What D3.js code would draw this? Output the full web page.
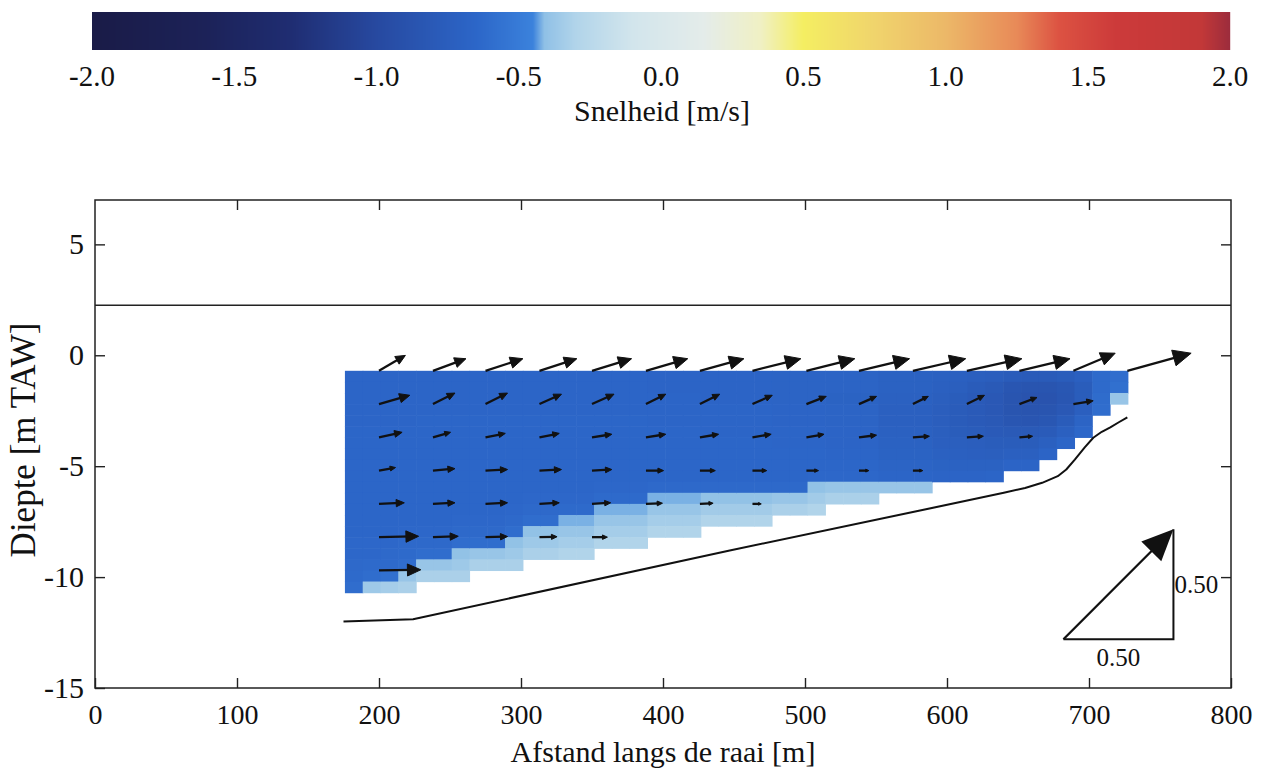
<!DOCTYPE html>
<meta charset="utf-8">
<title>Snelheid langs de raai</title>
<style>
body {
  margin: 0;
  background: #fff;
}
text {
  font-family: "Liberation Serif", "Times New Roman", serif;
  fill: #111;
}
.axis line {
  stroke: #222;
  stroke-width: 1.4px;
}
.axis path {
  display: none;
}
</style>
<body>
<script src="https://cdnjs.cloudflare.com/ajax/libs/d3/7.8.5/d3.min.js"></script>
<script>
var w = 1272,
    h = 769;

// colour bar
var barTicks = [-2.0, -1.5, -1.0, -0.5, 0.0, 0.5, 1.0, 1.5, 2.0];
var barStops = [-2.0, -1.6, -1.3, -1.0, -0.65, -0.45, -0.41, -0.3, -0.1, 0.15, 0.35, 0.5, 0.75, 1.0, 1.25, 1.4, 1.6, 1.9, 2.0];
var barColors = ["#1a1b47", "#1c2258", "#1f2d72", "#2749a0", "#2c66c8", "#3b82dc", "#8fc0e6", "#b1d4ea", "#d2e5ec", "#e4ecea",
                 "#f0f0c4", "#f4ee62", "#f0d46c", "#ecb868", "#e88a58", "#dc5242", "#cc3a3a", "#c23838", "#9c2c3c"];

// measuring grid (bins of 12.5 m x 0.5 m), speed in cm/s per column, top to bottom
var gridX0 = 176, gridDx = 12.53, gridZ0 = -0.7, gridDz = 0.5;
var speedCols = [
  [-66,-66,-66,-66,-66,-65,-65,-65,-65,-65,-65,-65,-65,-65,-65,-64,-64,-63,-62,-60],
  [-66,-66,-66,-66,-66,-65,-65,-65,-65,-65,-65,-65,-65,-65,-65,-64,-64,-62,-60,-36],
  [-66,-66,-66,-66,-66,-65,-65,-65,-65,-65,-65,-65,-65,-65,-65,-64,-63,-62,-58,-34],
  [-66,-66,-66,-66,-66,-65,-65,-65,-65,-65,-65,-65,-65,-65,-64,-63,-62,-60,-38,-32],
  [-66,-66,-66,-66,-65,-65,-65,-65,-65,-65,-65,-65,-65,-65,-64,-63,-60,-38,-32],
  [-66,-66,-66,-66,-65,-65,-65,-65,-65,-65,-65,-65,-65,-65,-64,-63,-60,-38,-32],
  [-66,-66,-66,-66,-65,-65,-65,-65,-65,-65,-65,-65,-65,-64,-63,-60,-40,-36,-32],
  [-66,-66,-66,-66,-65,-65,-65,-65,-65,-65,-65,-65,-65,-64,-63,-60,-38,-32],
  [-66,-66,-66,-66,-65,-65,-65,-65,-65,-65,-65,-65,-65,-64,-63,-60,-38,-32],
  [-66,-66,-66,-66,-65,-65,-65,-65,-65,-65,-65,-65,-64,-63,-60,-40,-36,-32],
  [-66,-66,-66,-66,-65,-65,-65,-65,-65,-65,-65,-64,-63,-60,-40,-36,-32],
  [-66,-66,-66,-66,-65,-65,-65,-65,-65,-65,-65,-64,-63,-60,-40,-36,-32],
  [-66,-66,-66,-66,-65,-65,-65,-65,-65,-65,-65,-64,-62,-42,-38,-34,-30],
  [-66,-66,-66,-66,-65,-65,-65,-65,-65,-65,-65,-64,-62,-42,-38,-34,-30],
  [-66,-66,-66,-66,-65,-65,-65,-65,-65,-65,-64,-62,-42,-38,-34,-30],
  [-66,-66,-66,-66,-65,-65,-65,-65,-65,-65,-64,-62,-42,-38,-34,-30],
  [-66,-66,-66,-66,-65,-65,-65,-65,-65,-65,-64,-62,-42,-38,-34,-30],
  [-67,-67,-66,-66,-66,-65,-65,-65,-65,-65,-63,-42,-38,-34,-30],
  [-67,-67,-66,-66,-66,-65,-65,-65,-65,-65,-63,-42,-38,-34,-30],
  [-67,-67,-66,-66,-66,-65,-65,-65,-65,-65,-63,-42,-38,-34,-30],
  [-67,-67,-67,-66,-66,-66,-65,-65,-65,-65,-63,-40,-35,-30],
  [-67,-67,-67,-66,-66,-66,-65,-65,-65,-65,-63,-40,-35,-30],
  [-67,-67,-67,-66,-66,-66,-65,-65,-65,-65,-63,-40,-35,-30],
  [-67,-67,-67,-66,-66,-66,-65,-65,-65,-65,-63,-40,-35,-30],
  [-68,-68,-68,-67,-67,-66,-66,-65,-65,-65,-63,-38,-32],
  [-68,-68,-68,-67,-67,-66,-66,-65,-65,-65,-63,-38,-32],
  [-68,-68,-68,-67,-67,-66,-66,-65,-65,-64,-40,-35,-30],
  [-68,-68,-69,-68,-68,-67,-67,-66,-65,-64,-38,-32],
  [-68,-68,-69,-68,-68,-67,-67,-66,-65,-64,-38,-32],
  [-68,-68,-69,-68,-68,-67,-67,-66,-65,-64,-38,-32],
  [-70,-70,-71,-72,-72,-71,-70,-69,-68,-66,-38],
  [-70,-70,-71,-72,-72,-71,-70,-69,-68,-66,-38],
  [-70,-70,-71,-72,-72,-71,-70,-69,-68,-66,-38],
  [-71,-72,-74,-75,-75,-74,-73,-71,-69,-67],
  [-72,-74,-76,-77,-77,-76,-74,-72,-70,-67],
  [-74,-77,-79,-79,-79,-77,-75,-73,-70,-67],
  [-75,-80,-82,-82,-81,-79,-76,-74,-70,-66],
  [-77,-84,-86,-86,-84,-80,-76,-72,-67],
  [-78,-86,-88,-87,-85,-80,-76,-72,-67],
  [-78,-86,-88,-86,-83,-78,-72,-67],
  [-76,-83,-84,-82,-77,-72,-66],
  [-72,-76,-76,-73,-68,-64],
  [-62,-62,-61,-60],
  [-60,-58,-38]
];

// velocity vectors (m/s): tails at arrowX[col], arrowZ[row]
var arrowX = [200, 238, 275, 313, 350, 388, 426, 463, 501, 538, 576, 614, 651, 689, 727];
var arrowZ = [-0.7, -2.2, -3.7, -5.2, -6.7, -8.2, -9.7];
var arrowU = [
  [0.12, 0.15, 0.17, 0.17, 0.18, 0.19, 0.20, 0.22, 0.22, 0.23, 0.24, 0.25, 0.23, 0.19, 0.29],
  [0.14, 0.10, 0.10, 0.10, 0.10, 0.09, 0.09, 0.09, 0.09, 0.08, 0.07, 0.08, 0.08, 0.09],
  [0.105, 0.08, 0.09, 0.09, 0.09, 0.09, 0.085, 0.085, 0.08, 0.08, 0.075, 0.075, 0.06],
  [0.075, 0.10, 0.10, 0.10, 0.09, 0.08, 0.07, 0.065, 0.055, 0.045, 0.045],
  [0.115, 0.10, 0.10, 0.09, 0.085, 0.075, 0.06, 0.04],
  [0.18, 0.115, 0.10, 0.08, 0.07],
  [0.19]
];
var arrowW = [
  [0.07, 0.055, 0.055, 0.055, 0.055, 0.055, 0.055, 0.055, 0.055, 0.055, 0.055, 0.055, 0.055, 0.08, 0.08],
  [0.04, 0.05, 0.05, 0.045, 0.045, 0.045, 0.045, 0.04, 0.035, 0.035, 0.035, 0.04, 0.03, 0.015],
  [0.023, 0.023, 0.018, 0.018, 0.014, 0.014, 0.014, 0.014, 0.014, 0.01, 0.005, 0.005, 0.005],
  [0.014, 0.009, 0.005, 0.005, 0.005, 0, 0, 0, 0, 0, 0],
  [0.005, 0.005, 0.005, 0.005, 0.005, 0.003, 0.003, 0],
  [0.004, 0.004, 0.003, 0.002, 0],
  [0.003]
];

// bed profile and water level
var bedX = [175, 224, 447, 581, 640, 655, 667, 678, 684, 690, 697, 703, 709, 715, 721, 727];
var bedZ = [-12.0, -11.9, -8.8, -7.0, -6.2, -5.98, -5.75, -5.45, -5.15, -4.7, -4.15, -3.72, -3.45, -3.25, -3.02, -2.8];
var waterLevel = 2.25;

var xTicks = [0, 100, 200, 300, 400, 500, 600, 700, 800];
var yTicks = [5, 0, -5, -10, -15];
var refSpeed = 0.5, refX = 682, refZ = -12.8;

var svg = d3.select("body").append("svg")
    .attr("width", w)
    .attr("height", h);

var color = d3.scaleLinear().domain(barStops).range(barColors).clamp(true);

// ---- colour bar
var cb = d3.scaleLinear().domain([-2, 2]).range([92, 1230]);
svg.append("g").selectAll("rect")
    .data(d3.range(92, 1230))
  .enter().append("rect")
    .attr("x", function(d) { return d; })
    .attr("y", 12)
    .attr("width", 1.2)
    .attr("height", 38)
    .style("fill", function(d) { return color(cb.invert(d + 0.5)); });

svg.append("g").selectAll("text")
    .data(barTicks)
  .enter().append("text")
    .attr("x", cb)
    .attr("y", 86)
    .attr("text-anchor", "middle")
    .style("font-size", "29px")
    .text(function(d) { return d.toFixed(1); });

svg.append("text")
    .attr("x", 662)
    .attr("y", 121)
    .attr("text-anchor", "middle")
    .style("font-size", "30px")
    .text("Snelheid [m/s]");

// ---- main plot
var x = d3.scaleLinear().domain([0, 800]).range([95, 1231]),
    y = d3.scaleLinear().domain([-15, 7]).range([688, 200]);

var cells = [];
speedCols.forEach(function(col, i) {
  col.forEach(function(v, j) {
    cells.push({x0: gridX0 + i * gridDx, z0: gridZ0 - j * gridDz, v: v / 100});
  });
});

svg.append("g").selectAll("rect")
    .data(cells)
  .enter().append("rect")
    .attr("x", function(d) { return x(d.x0); })
    .attr("y", function(d) { return y(d.z0); })
    .attr("width", function(d) { return x(d.x0 + gridDx) - x(d.x0) + 0.6; })
    .attr("height", function(d) { return y(d.z0 - gridDz) - y(d.z0) + 0.6; })
    .style("fill", function(d) { return color(d.v); });

// water level
svg.append("line")
    .attr("x1", x(0)).attr("x2", x(800))
    .attr("y1", y(waterLevel)).attr("y2", y(waterLevel))
    .style("stroke", "#222")
    .style("stroke-width", 1.5);

// bed
svg.append("path")
    .datum(d3.zip(bedX, bedZ))
    .attr("d", d3.line().x(function(d) { return x(d[0]); }).y(function(d) { return y(d[1]); }))
    .style("fill", "none")
    .style("stroke", "#111")
    .style("stroke-width", 2)
    .style("stroke-linejoin", "round");

// arrows
var vs = d3.scaleLinear().domain([0, refSpeed]).range([0, 110]);
var arrows = [];
arrowU.forEach(function(row, j) {
  row.forEach(function(u, i) {
    arrows.push({x: arrowX[i], z: arrowZ[j], u: u, w: arrowW[j][i]});
  });
});

function arrowPath(x0, y0, x1, y1) {
  var dx = x1 - x0, dy = y1 - y0, len = Math.sqrt(dx * dx + dy * dy);
  var hl = Math.min(0.32 * len, 8 + 0.15 * len), hw = 0.45 * hl;
  var ux = dx / len, uy = dy / len;
  var bx = x1 - ux * hl, by = y1 - uy * hl;
  return {
    shaft: "M" + x0 + "," + y0 + "L" + (x1 - ux * hl * 0.5) + "," + (y1 - uy * hl * 0.5),
    head: "M" + x1 + "," + y1 + "L" + (bx - uy * hw) + "," + (by + ux * hw) + "L" + (bx + uy * hw) + "," + (by - ux * hw) + "Z"
  };
}

var ag = svg.append("g");
arrows.forEach(function(d) {
  var x0 = x(d.x), y0 = y(d.z);
  var p = arrowPath(x0, y0, x0 + vs(d.u), y0 - vs(d.w));
  ag.append("path").attr("d", p.shaft).style("stroke", "#111").style("stroke-width", 2.3).style("fill", "none");
  ag.append("path").attr("d", p.head).style("fill", "#111").style("stroke", "#111").style("stroke-width", 1).style("stroke-linejoin", "round");
});

// reference triangle
var rx = x(refX), ry = y(refZ);
svg.append("path")
    .attr("d", "M" + rx + "," + ry + "H" + (rx + vs(refSpeed)) + "V" + (ry - vs(refSpeed)))
    .style("fill", "none")
    .style("stroke", "#111")
    .style("stroke-width", 2);
var rp = arrowPath(rx, ry, rx + vs(refSpeed), ry - vs(refSpeed));
svg.append("path").attr("d", rp.shaft).style("stroke", "#111").style("stroke-width", 2.3).style("fill", "none");
svg.append("path").attr("d", rp.head).style("fill", "#111");
svg.append("text")
    .attr("x", rx + vs(refSpeed) / 2)
    .attr("y", ry + 27)
    .attr("text-anchor", "middle")
    .style("font-size", "25px")
    .text(refSpeed.toFixed(2));
svg.append("text")
    .attr("x", rx + vs(refSpeed) + 1)
    .attr("y", ry - vs(refSpeed) / 2 + 9)
    .style("font-size", "25px")
    .text(refSpeed.toFixed(2));

// axes
function fmt(d) { return String(d); }
svg.append("g").attr("class", "axis")
    .attr("transform", "translate(0," + y(-15) + ")")
    .call(d3.axisBottom(x).tickValues(xTicks).tickSize(-10).tickPadding(16).tickFormat(fmt))
    .call(function(g) { g.selectAll("text").style("font-size", "28px").style("font-family", null).attr("fill", "#111"); });
svg.append("g").attr("class", "axis")
    .attr("transform", "translate(0," + y(7) + ")")
    .call(d3.axisTop(x).tickValues(xTicks.slice(1, -1)).tickSize(-10).tickFormat(""));
svg.append("g").attr("class", "axis")
    .attr("transform", "translate(" + x(0) + ",0)")
    .call(d3.axisLeft(y).tickValues(yTicks).tickSize(-10).tickPadding(11).tickFormat(fmt))
    .call(function(g) { g.selectAll("text").style("font-size", "30px").style("font-family", null).attr("fill", "#111"); });
svg.append("g").attr("class", "axis")
    .attr("transform", "translate(" + x(800) + ",0)")
    .call(d3.axisRight(y).tickValues(yTicks.slice(0, -1)).tickSize(-10).tickFormat(""));

svg.append("rect")
    .attr("x", x(0)).attr("y", y(7))
    .attr("width", x(800) - x(0)).attr("height", y(-15) - y(7))
    .style("fill", "none")
    .style("stroke", "#222")
    .style("stroke-width", 1.5);

svg.append("text")
    .attr("x", 663)
    .attr("y", 762)
    .attr("text-anchor", "middle")
    .style("font-size", "30px")
    .text("Afstand langs de raai [m]");

svg.append("text")
    .attr("transform", "translate(35,440)rotate(-90)")
    .attr("text-anchor", "middle")
    .style("font-size", "35px")
    .text("Diepte [m TAW]");
</script>
